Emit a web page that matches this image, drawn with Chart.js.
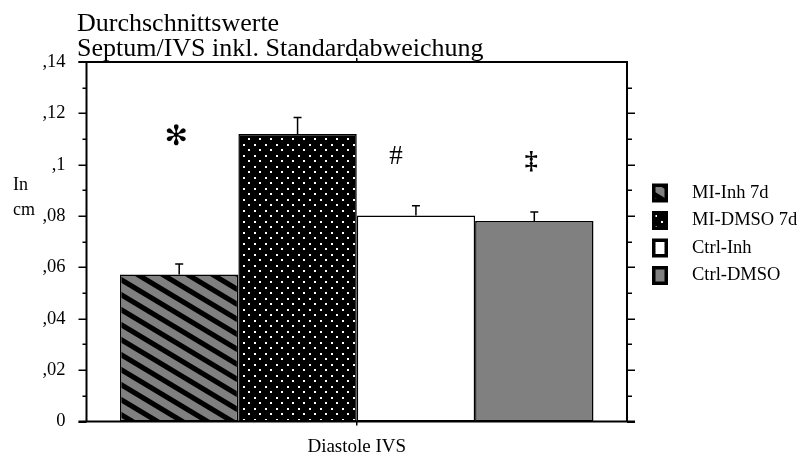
<!DOCTYPE html>
<html>
<head>
<meta charset="utf-8">
<script src="https://cdn.jsdelivr.net/npm/chart.js@4/dist/chart.umd.min.js"></script>
<style>
  html, body { margin: 0; padding: 0; background: #fff; }
  #wrap { width: 806px; height: 457px; position: relative; }
</style>
</head>
<body>
<div id="wrap"><canvas id="c" width="806" height="457"></canvas></div>
<script>
// Mean septum thickness (cm) at diastole, with standard deviation
const categories = ['Diastole IVS'];
const seriesNames = ['MI-Inh 7d', 'MI-DMSO 7d', 'Ctrl-Inh', 'Ctrl-DMSO'];
const meanValues = [0.0572, 0.1120, 0.0802, 0.0781];
const sdValues = [0.0041, 0.0064, 0.0038, 0.0035];
const significance = ['✻', '', '#', '‡'];
const yTickValues = [0, 0.02, 0.04, 0.06, 0.08, 0.1, 0.12, 0.14];

const FONT = "'Liberation Serif', 'Times New Roman', serif";
const canvas = document.getElementById('c');
const ctx = canvas.getContext('2d');

// Grey fill with black diagonal stripes
function stripePattern() {
  const w = 25, h = 15, bw = 10;
  const t = document.createElement('canvas');
  t.width = w; t.height = h;
  const g = t.getContext('2d');
  g.fillStyle = '#808080';
  g.fillRect(0, 0, w, h);
  g.fillStyle = '#000';
  for (let k = -1; k <= 1; k++) {
    g.beginPath();
    g.moveTo(k * w, 0);
    g.lineTo(k * w + bw, 0);
    g.lineTo(k * w + bw + w, h);
    g.lineTo(k * w + w, h);
    g.closePath();
    g.fill();
  }
  return ctx.createPattern(t, 'repeat');
}

// Black fill with a staggered grid of white dots
function dotPattern() {
  const t = document.createElement('canvas');
  t.width = 11; t.height = 11;
  const g = t.getContext('2d');
  g.fillStyle = '#000';
  g.fillRect(0, 0, 11, 11);
  g.fillStyle = '#fff';
  g.fillRect(1, 1, 2, 2);
  g.fillRect(6, 6, 2, 2);
  return ctx.createPattern(t, 'repeat');
}

const fills = [stripePattern(), dotPattern(), '#ffffff', '#808080'];

const datasets = seriesNames.map((name, i) => ({
  label: name,
  data: [meanValues[i]],
  sd: [sdValues[i]],
  backgroundColor: fills[i],
  borderColor: '#000',
  borderWidth: 1.5,
  borderSkipped: false
}));

function fmtTick(v) {
  if (Math.abs(v) < 1e-9) return '0';
  return String(Number(v.toFixed(2))).replace(/^0\./, ',');
}

// Title, axis frame with tick marks, error bars, markers and legend
const decorations = {
  id: 'decorations',
  afterDatasetsDraw(chart, args, opts) {
    const c = chart.ctx;
    const a = chart.chartArea;
    const ys = chart.scales.y;
    c.save();

    // error bars (upper whisker only)
    c.strokeStyle = '#000';
    c.lineWidth = 1.5;
    chart.data.datasets.forEach((ds, i) => {
      const bar = chart.getDatasetMeta(i).data[0];
      const top = ys.getPixelForValue(ds.data[0] + ds.sd[0]);
      c.beginPath();
      c.moveTo(bar.x, bar.y);
      c.lineTo(bar.x, top);
      c.moveTo(bar.x - 4, top);
      c.lineTo(bar.x + 4, top);
      c.stroke();
    });

    // significance markers
    c.fillStyle = '#000';
    c.textAlign = 'center';
    c.textBaseline = 'middle';
    opts.marks.forEach(m => {
      const txt = significance[m.series];
      if (!txt) return;
      const bar = chart.getDatasetMeta(m.series).data[0];
      c.font = m.font;
      c.fillText(txt, bar.x + m.dx, ys.getPixelForValue(m.level));
    });

    // frame
    c.lineWidth = 2;
    c.lineCap = 'butt';
    c.beginPath();
    c.moveTo(a.left, a.top - 1); c.lineTo(a.left, a.bottom + 1);
    c.moveTo(a.right, a.top - 1); c.lineTo(a.right, a.bottom + 1);
    c.moveTo(a.left - 8, a.top); c.lineTo(a.right + 1, a.top);
    c.moveTo(a.left - 8, a.bottom); c.lineTo(a.right + 8, a.bottom);
    c.stroke();

    // ticks: majors every 0.02, minors in between
    c.lineWidth = 1.5;
    c.beginPath();
    for (let k = 0; k <= 14; k++) {
      const v = k / 100;
      const py = Math.round(ys.getPixelForValue(v)) + 0.25;
      const major = k % 2 === 0;
      c.moveTo(a.left, py); c.lineTo(a.left - (major ? 8 : 4), py);
      if (k < 14) { c.moveTo(a.right, py); c.lineTo(a.right + (major ? 8 : 5), py); }
    }
    const cx = chart.scales.x.getPixelForValue(0);
    c.moveTo(cx, a.top); c.lineTo(cx, a.top - 4);
    c.moveTo(cx, a.bottom); c.lineTo(cx, a.bottom + 4);
    c.stroke();

    // title
    c.textAlign = 'left';
    c.textBaseline = 'alphabetic';
    c.font = '26px ' + FONT;
    opts.title.forEach((line, i) => c.fillText(line, 77, 31 + i * 24.5));

    // y unit
    c.font = '18px ' + FONT;
    opts.unit.forEach((line, i) => c.fillText(line, 13, 190 + i * 25));

    // legend
    c.textBaseline = 'middle';
    c.font = '18.5px ' + FONT;
    chart.data.datasets.forEach((ds, i) => {
      const yc = 193 + i * 27.5;
      c.fillStyle = '#000';
      c.fillRect(652, yc - 9.5, 16, 19);
      c.fillStyle = ds.backgroundColor;
      c.fillRect(655.5, yc - 6, 9, 12);
      c.fillStyle = '#000';
      c.fillText(ds.label, 692, yc);
    });
    c.restore();
  }
};

new Chart(canvas, {
  type: 'bar',
  data: { labels: categories, datasets },
  plugins: [decorations],
  options: {
    responsive: false,
    animation: false,
    devicePixelRatio: 1,
    layout: { padding: { top: 62, right: 179, left: 0, bottom: 0 } },
    datasets: { bar: { categoryPercentage: 0.876, barPercentage: 1.0 } },
    scales: {
      x: {
        grid: { display: false, drawTicks: false },
        border: { display: false },
        ticks: { color: '#000', font: { family: FONT, size: 19 }, padding: 14 },
        afterFit(s) { s.height = 35.5; }
      },
      y: {
        min: 0, max: 0.14,
        afterBuildTicks(s) { s.ticks = yTickValues.map(v => ({ value: v })); },
        grid: { display: false, drawTicks: false },
        border: { display: false },
        ticks: {
          color: '#000',
          font: { family: FONT, size: 18.5 },
          padding: 21,
          callback: v => fmtTick(v)
        },
        afterFit(s) { s.width = 86.5; }
      }
    },
    plugins: {
      legend: { display: false },
      tooltip: { enabled: false },
      decorations: {
        title: ['Durchschnittswerte', 'Septum/IVS inkl. Standardabweichung'],
        unit: ['In', 'cm'],
        marks: [
          { series: 0, level: 0.1104, dx: -3, font: 'bold 28px DejaVu Sans' },
          { series: 2, level: 0.1030, dx: -20, font: '27px ' + FONT },
          { series: 3, level: 0.1010, dx: -3, font: 'bold 26px ' + FONT }
        ]
      }
    }
  }
});
</script>
</body>
</html>
